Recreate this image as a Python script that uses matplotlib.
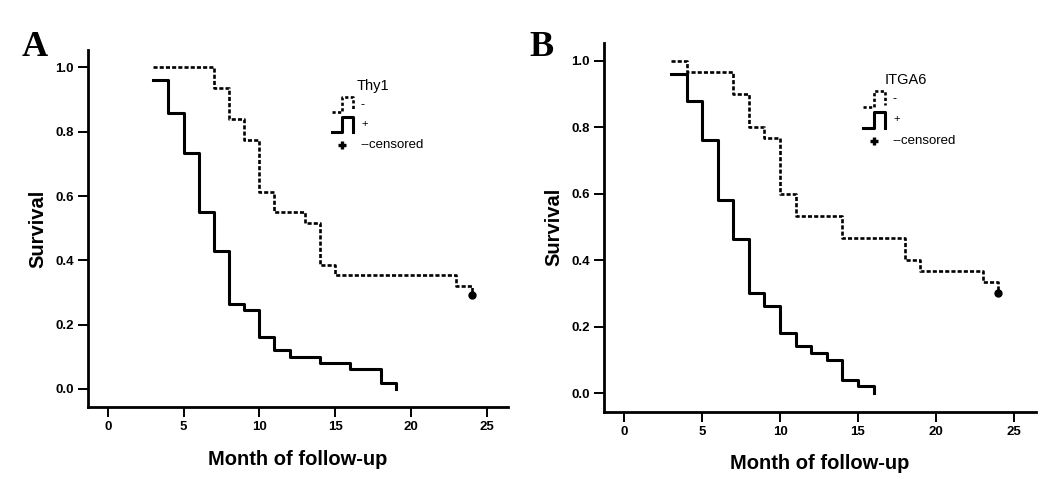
import numpy as np
from matplotlib import pyplot as plt
from matplotlib.ticker import FormatStrFormatter

# survival curves (month, survival)
thy1_neg_t = [3, 7, 8, 9, 10, 11, 13, 14, 15, 23, 24]
thy1_neg_s = [1.0, 0.937, 0.84, 0.775, 0.613, 0.549, 0.516, 0.387, 0.354, 0.321, 0.292]
thy1_pos_t = [3, 4, 5, 6, 7, 8, 9, 10, 11, 12, 14, 16, 18, 19]
thy1_pos_s = [0.96, 0.857, 0.735, 0.551, 0.43, 0.265, 0.245, 0.163, 0.122, 0.10, 0.08, 0.061, 0.02, 0.0]
thy1_cens = (24, 0.292)

itga6_neg_t = [3, 4, 7, 8, 9, 10, 11, 14, 18, 19, 23, 24]
itga6_neg_s = [1.0, 0.967, 0.9, 0.801, 0.768, 0.6, 0.533, 0.467, 0.4, 0.366, 0.333, 0.301]
itga6_pos_t = [3, 4, 5, 6, 7, 8, 9, 10, 11, 12, 13, 14, 15, 16]
itga6_pos_s = [0.96, 0.88, 0.761, 0.58, 0.462, 0.30, 0.262, 0.18, 0.141, 0.121, 0.10, 0.04, 0.02, 0.0]
itga6_cens = (24, 0.301)

xticks = [0, 5, 10, 15, 20, 25]
yticks = [0.0, 0.2, 0.4, 0.6, 0.8, 1.0]

plt.rcParams['font.family'] = ['Liberation Sans', 'DejaVu Sans']

LW = 2.2        # solid curve
LWD = 1.9       # dashed curve
DASH = (1.55, 0.8)


def draw_panel(ax, neg_t, neg_s, pos_t, pos_s, cens, title, dx):
    ax.step(neg_t, neg_s, where='post', color='black', lw=LWD, dashes=DASH)
    ax.step(pos_t, pos_s, where='post', color='black', lw=LW)
    ax.plot([cens[0]], [cens[1]], marker='o', ms=5, color='black')

    ax.set_xlim(-1.3, 26.4)
    ax.set_ylim(-0.056, 1.054)
    ax.set_xticks(xticks)
    ax.set_yticks(yticks)
    ax.yaxis.set_major_formatter(FormatStrFormatter('%.1f'))
    for s in ['top', 'right']:
        ax.spines[s].set_visible(False)
    for s in ['left', 'bottom']:
        ax.spines[s].set_linewidth(2.0)
    ax.tick_params(direction='out', length=7, width=1.4, labelsize=9.5, pad=3)
    for lab in ax.get_xticklabels() + ax.get_yticklabels():
        lab.set_fontweight('bold')
    ax.set_xlabel('Month of follow-up', fontsize=14.5, fontweight='bold', labelpad=12)
    ax.set_ylabel('Survival', fontsize=14.5, fontweight='bold', labelpad=6)

    # hand-drawn SPSS style legend
    tr = ax.transAxes
    ax.text(0.679 + dx, 0.899, title, transform=tr, fontsize=10.5, ha='center', va='center')
    ax.plot([0.581 + dx, 0.605 + dx, 0.605 + dx, 0.631 + dx, 0.631 + dx],
            [0.826, 0.826, 0.868, 0.868, 0.832], transform=tr,
            color='black', lw=LWD, dashes=(1.2, 0.9))
    ax.text(0.648 + dx, 0.846, '-', transform=tr, fontsize=9, ha='left', va='center')
    ax.plot([0.581 + dx, 0.605 + dx, 0.605 + dx, 0.631 + dx, 0.631 + dx],
            [0.770, 0.770, 0.812, 0.812, 0.770], transform=tr,
            color='black', lw=LW)
    ax.text(0.650 + dx, 0.792, '+', transform=tr, fontsize=8, ha='left', va='center')
    ax.plot([0.605 + dx], [0.734], transform=tr, marker='+', ms=6, mew=2.4,
            color='black')
    ax.text(0.648 + dx, 0.734, '--censored', transform=tr, fontsize=9.5,
            ha='left', va='center')


fig = plt.figure(figsize=(10.5, 4.82), dpi=100)
ax1 = fig.add_axes([0.0838, 0.1556, 0.4, 0.7407])
ax2 = fig.add_axes([0.5752, 0.1459, 0.4111, 0.7656])

draw_panel(ax1, thy1_neg_t, thy1_neg_s, thy1_pos_t, thy1_pos_s, thy1_cens, 'Thy1', 0.0)
draw_panel(ax2, itga6_neg_t, itga6_neg_s, itga6_pos_t, itga6_pos_s, itga6_cens, 'ITGA6', 0.02)

fig.text(35 / 1050, 1 - 47 / 482, 'A', family='Liberation Serif', fontweight='bold',
         fontsize=26, ha='center', va='center')
fig.text(542 / 1050, 1 - 47 / 482, 'B', family='Liberation Serif', fontweight='bold',
         fontsize=26, ha='center', va='center')

fig.savefig('out.png', dpi=100)
